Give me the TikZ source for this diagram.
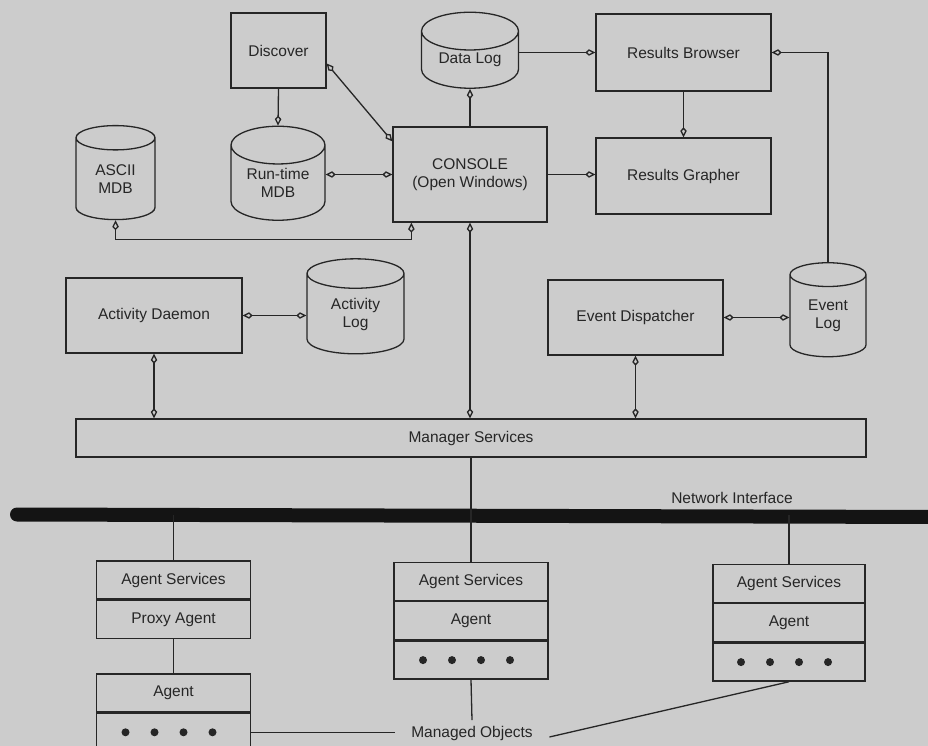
\documentclass[tikz,border=0pt]{standalone}
\usepackage{fontspec}
\setmainfont{Liberation Sans}
\usetikzlibrary{shapes.geometric}
\usetikzlibrary{arrows.meta}
\usetikzlibrary{positioning}
\definecolor{paper}{RGB}{204,204,204}
\definecolor{ink}{RGB}{38,38,38}

\tikzset{
  box/.style={draw=ink,rectangle,inner sep=0pt,align=center},
  db/.style={draw=ink,cylinder,shape border rotate=90,aspect=0.6,inner sep=0pt,align=center},
  cell/.style={draw=ink,rectangle,minimum width=154pt,minimum height=38pt,inner sep=0pt},
}

\begin{document}
\begin{tikzpicture}[x=1pt,y=-1pt,line width=1.3pt,color=ink,
  >={Kite[open,length=10pt,width=6.5pt,inset=3.5pt]},
  font=\fontsize{15.5}{18}\selectfont]
\fill[paper] (0,0) rectangle (928,746);
\useasboundingbox (0,0) rectangle (928,746);

  % top part
  \node[box,minimum width=95pt,minimum height=75pt] at (278.5,50.5) (disc) {Discover};
  \node[db,minimum width=94pt,minimum height=94pt] at (278,183) (rtmdb) {Run-time\\MDB};
  \node[db,minimum width=79pt,minimum height=94pt] at (115.5,179) (ascii) {ASCII\\MDB};
  \node[db,minimum width=97pt,minimum height=76pt] at (470,60) (dlog) {Data Log};
  \node[box,minimum width=154pt,minimum height=95pt] at (470,174.5) (cons) {CONSOLE\\(Open Windows)};
  \node[box,minimum width=175pt,minimum height=77pt] at (683.5,52.5) (rbrow) {Results Browser};
  \node[box,minimum width=175pt,minimum height=76pt] at (683.5,176) (rgraph) {Results Grapher};

  \draw [->] (disc.south) -- (rtmdb.north);
  \draw [<->] ([yshift=-13pt]disc.east) -- ([yshift=-15pt]cons.north west);
  \draw [<->] (cons.west -| rtmdb.east) -- (cons.west);
  \draw [<->] (ascii.south) -- ++(0,19) -| ([xshift=19pt]cons.south west);
  \draw [->] (cons.north) -- (dlog.south);
  \draw [->] (rbrow.west -| dlog.east) -- (rbrow.west);
  \draw [->] (rbrow.south) -- (rgraph.north);
  \draw [->] (cons.east) -- (cons.east -| rgraph.west);

  % daemons
  \node[box,minimum width=176pt,minimum height=75pt] at (154,315.5) (adaem) {Activity Daemon};
  \node[db,minimum width=97pt,minimum height=95pt] at (355.5,314) (alog) {Activity\\Log};
  \node[box,minimum width=175pt,minimum height=75pt] at (635.5,317.5) (edisp) {Event Dispatcher};
  \node[db,minimum width=76pt,minimum height=94pt] at (828,316) (elog) {Event\\Log};
  \node[box,minimum width=790pt,minimum height=38pt] at (471,438) (msvc) {Manager Services};

  \draw [->] (elog.north) |- (rbrow.east);
  \draw [<->] (adaem.east) -- (adaem.east -| alog.west);
  \draw [<->] (edisp.east) -- (edisp.east -| elog.west);
  \draw [<->] (adaem.south) -- (adaem.south |- msvc.north);
  \draw [<->] (edisp.south) -- (edisp.south |- msvc.north);
  \draw [<->] (cons.south) -- (cons.south |- msvc.north);

  % network
  \coordinate (netl) at (17,514.5);
  \coordinate (netr) at (940,517);
  \draw [line width=14pt,line cap=round,black!92] (netl) -- (netr);
  \node at (732,498) (netlbl) {Network Interface};
  \draw (msvc.south) -- (msvc.south |- netl);

  % agents
  \node[cell] at (173.5,580) (as1) {Agent Services};
  \node[cell,below=0pt of as1] (pa1) {Proxy Agent};
  \node[cell] at (173.5,693) (ag1) {Agent};
  \node[cell,below=0pt of ag1] (mo1) {};
  \node[cell] at (471,581.5) (as2) {Agent Services};
  \node[cell,below=0pt of as2] (ag2) {Agent};
  \node[cell,below=0pt of ag2] (mo2) {};
  \node[cell,minimum width=152pt] at (789,583.5) (as3) {Agent Services};
  \node[cell,minimum width=152pt,below=0pt of as3] (ag3) {Agent};
  \node[cell,minimum width=152pt,below=0pt of ag3] (mo3) {};
  \foreach \m in {mo1,mo2,mo3}
    \foreach \dx in {-48,-19,10,39}
      \fill ([xshift=\dx pt]\m.center) circle (4pt);

  \draw (as1.north |- netl) -- (as1.north);
  \draw (as2.north |- netl) -- (as2.north);
  \draw (as3.north |- netl) -- (as3.north);
  \draw (pa1.south) -- (ag1.north);

  \node[inner xsep=16pt,inner ysep=5pt] at (472,733) (mobj) {Managed Objects};
  \draw (mo1.east) -- (mo1.east -| mobj.west);
  \draw (mo2.south) -- (mobj.north);
  \draw ([yshift=-4pt]mobj.east) -- (mo3.south);
\end{tikzpicture}
\end{document}
